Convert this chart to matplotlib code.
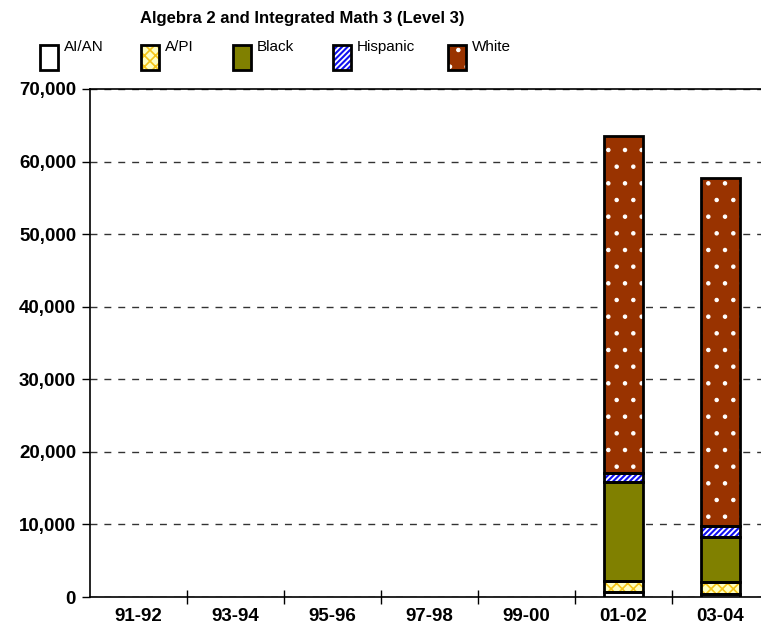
import matplotlib.pyplot as plt
import numpy as np
from matplotlib.patches import Rectangle
from matplotlib.ticker import FuncFormatter

plt.rcParams['font.family'] = ['Liberation Sans', 'DejaVu Sans']

years = ['91-92', '93-94', '95-96', '97-98', '99-00', '01-02', '03-04']
groups = ['AI/AN', 'A/PI', 'Black', 'Hispanic', 'White']
aian = [0, 0, 0, 0, 0, 700, 450]
api = [0, 0, 0, 0, 0, 1500, 1650]
black = [0, 0, 0, 0, 0, 13700, 6150]
hispanic = [0, 0, 0, 0, 0, 1200, 1500]
white = [0, 0, 0, 0, 0, 46400, 47950]
series = [aian, api, black, hispanic, white]

# face colour, hatch pattern, hatch colour, hatch width
styles = [
    ('white', '', 'white', 1.0),
    ('#FFFFC0', 'xxx', '#F5C518', 1.2),
    ('#808000', '', '#808000', 1.0),
    ('white', '//////', '#1010F0', 1.5),
    ('#993300', '.', 'white', 0.8),
]

fig = plt.figure(figsize=(7.61, 6.39), dpi=100)
ax = fig.add_axes([90 / 761, 42 / 639, 679 / 761, 508 / 639])

x = np.arange(len(years))
width = 0.4
bottom = np.zeros(len(years))
for vals, (fc, hatch, hc, hw) in zip(series, styles):
    vals = np.array(vals, dtype=float)
    mask = vals > 0
    with plt.rc_context({'hatch.linewidth': hw}):
        ax.bar(x[mask], vals[mask], width, bottom=bottom[mask], color=fc,
               hatch=hatch, edgecolor=hc, linewidth=0, zorder=3)
    ax.bar(x[mask], vals[mask], width, bottom=bottom[mask], fill=False,
           edgecolor='black', linewidth=2, zorder=4)
    bottom += vals

ax.set_xlim(-0.5, len(years) - 0.5)
ax.set_ylim(0, 70000)
ax.set_yticks(np.arange(0, 70001, 10000))
ax.yaxis.set_major_formatter(FuncFormatter(lambda v, p: f'{int(v):,}'))
ax.set_xticks(x)
ax.set_xticklabels(years)
ax.set_xticks(np.arange(0.5, len(years) - 0.5), minor=True)
ax.tick_params(axis='x', which='major', length=0, pad=8)
ax.tick_params(axis='x', which='minor', direction='inout', length=10, width=1)
ax.tick_params(axis='y', direction='out', length=6, width=1, pad=4)
for lab in ax.get_xticklabels() + ax.get_yticklabels():
    lab.set_fontweight('bold')
    lab.set_fontsize(13.5)

ax.yaxis.grid(True, linestyle=(0, (5, 5)), color='#333333', linewidth=1, zorder=0)
ax.set_axisbelow(True)
ax.spines['right'].set_visible(False)
for s in ['left', 'bottom', 'top']:
    ax.spines[s].set_linewidth(1.2)

fig.text(302 / 761, 1 - 19 / 639, 'Algebra 2 and Integrated Math 3 (Level 3)',
         ha='center', va='center', fontsize=12, fontweight='bold')

# legend drawn in pixel positions
box_x = [40, 141, 233, 333, 448]
for bx, name, (fc, hatch, hc, hw) in zip(box_x, groups, styles):
    with plt.rc_context({'hatch.linewidth': hw}):
        r = Rectangle((bx / 761, 1 - 70 / 639), 18 / 761, 25 / 639,
                      transform=fig.transFigure, facecolor=fc, hatch=hatch,
                      edgecolor=hc, linewidth=0)
    fig.add_artist(r)
    fig.add_artist(Rectangle((bx / 761, 1 - 70 / 639), 18 / 761, 25 / 639,
                             transform=fig.transFigure, fill=False,
                             edgecolor='black', linewidth=2))
    fig.text((bx + 24) / 761, 1 - 47 / 639, name, ha='left', va='center',
             fontsize=11)

fig.savefig('out.png', dpi=100)
